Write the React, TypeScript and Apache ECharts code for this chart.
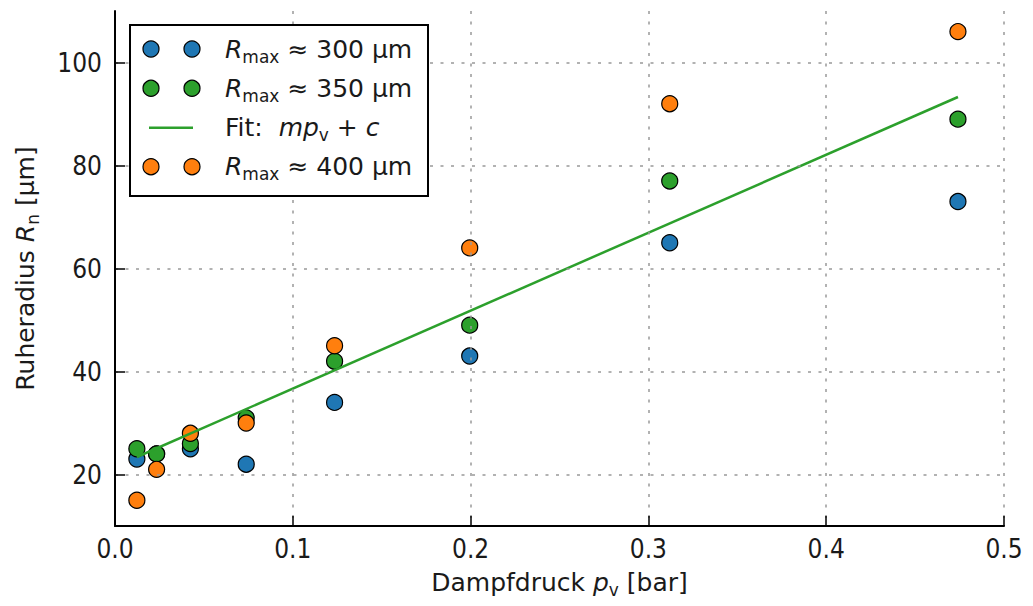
import React, { useEffect, useRef } from "react";
import * as echarts from "echarts";

// Vapour pressure of water p_v [bar]
const pv = [0.0123, 0.0234, 0.0424, 0.0738, 0.1235, 0.1995, 0.312, 0.4741];
// Rest radius R_n [µm]
const r300 = [23, 24, 25, 22, 34, 43, 65, 73];
const r350 = [25, 24, 26, 31, 42, 49, 77, 89];
const r400 = [15, 21, 28, 30, 45, 64, 92, 106];
// Linear fit endpoints (p_v, R_n)
const fitX = [0.0123, 0.4741];
const fitY = [23.4, 93.3];

const yTicks = [20, 40, 60, 80, 100];

const C_BLUE = "#1f77b4";
const C_GREEN = "#2ca02c";
const C_ORANGE = "#ff7f0e";
const FONT = "'DejaVu Sans', sans-serif";
const FONT_TICK = "'DejaVu Sans Condensed', 'DejaVu Sans', sans-serif";
const TXT = "#1a1a1a";

const legendRows = [
  { kind: "dot", color: C_BLUE, text: "{i|R}{s|max} ≈ 300 µm" },
  { kind: "dot", color: C_GREEN, text: "{i|R}{s|max} ≈ 350 µm" },
  { kind: "line", color: C_GREEN, text: "Fit:  {i|mp}{s|v} + {i|c}" },
  { kind: "dot", color: C_ORANGE, text: "{i|R}{s|max} ≈ 400 µm" },
];

export default function App() {
  const ref = useRef<HTMLDivElement>(null);
  useEffect(() => {
    const chart = echarts.init(ref.current!, null, { renderer: "svg" });

    const richAxis = {
      i: { fontStyle: "italic", fontSize: 25, fontFamily: FONT, lineHeight: 32, color: TXT },
      s: { fontSize: 17, fontFamily: FONT, lineHeight: 20, verticalAlign: "bottom", color: TXT },
    };
    const richZr = {
      i: { fontStyle: "italic", fontSize: 25, fontFamily: FONT, lineHeight: 32, fill: TXT },
      s: { fontSize: 17, fontFamily: FONT, lineHeight: 20, verticalAlign: "bottom", fill: TXT },
    };

    const rowY = [49, 88.3, 127.7, 166.7];
    const graphic: any[] = [
      {
        type: "rect",
        z: 100,
        shape: { x: 130, y: 25, width: 298, height: 171 },
        style: { fill: "#fff", stroke: "#000", lineWidth: 2 },
      },
    ];
    legendRows.forEach((r, i) => {
      const y = rowY[i];
      if (r.kind === "dot") {
        [151, 192].forEach((cx) =>
          graphic.push({
            type: "circle",
            z: 101,
            shape: { cx, cy: y, r: 8 },
            style: { fill: r.color, stroke: "#000", lineWidth: 1.2 },
          })
        );
      } else {
        graphic.push({
          type: "line",
          z: 101,
          shape: { x1: 149, y1: y, x2: 193, y2: y },
          style: { stroke: r.color, lineWidth: 2.5 },
        });
      }
      graphic.push({
        type: "text",
        z: 101,
        x: 225,
        y,
        style: {
          text: r.text,
          rich: richZr,
          fontSize: 25,
          fontFamily: FONT,
          lineHeight: 32,
          fill: TXT,
          verticalAlign: "middle",
          align: "left",
        },
      });
    });

    const dots = (vals: number[]) => pv.map((x, i) => [x, vals[i]]);
    const scatterStyle = (color: string) => ({
      type: "scatter",
      symbol: "circle",
      symbolSize: 16,
      itemStyle: { color, borderColor: "#000", borderWidth: 1.2, opacity: 1 },
    });

    chart.setOption({
      animation: false,
      textStyle: { fontFamily: FONT },
      grid: { left: 115, right: 29, top: 11, bottom: 80, containLabel: false },
      xAxis: {
        type: "value",
        min: 0,
        max: 0.5,
        interval: 0.1,
        z: 10,
        axisLine: { show: true, onZero: false, lineStyle: { color: "#000", width: 2 } },
        axisTick: { show: true, inside: true, length: 10, lineStyle: { color: "#000", width: 1.5 } },
        axisLabel: {
          formatter: (v: number) => v.toFixed(1),
          fontSize: 26,
          color: TXT,
          margin: 10,
          fontFamily: FONT_TICK,
        },
        splitLine: { show: true, lineStyle: { color: "#999", type: [3, 7.5], width: 1.5 } },
        name: "Dampfdruck {i|p}{s|v} [bar]",
        nameLocation: "middle",
        nameGap: 40,
        nameTextStyle: { fontSize: 25, fontFamily: FONT, color: TXT, lineHeight: 32, rich: richAxis },
      },
      yAxis: {
        type: "value",
        min: 10,
        max: 110,
        z: 10,
        axisLine: { show: true, onZero: false, lineStyle: { color: "#000", width: 2 } },
        axisTick: {
          show: true,
          inside: true,
          length: 10,
          customValues: yTicks,
          lineStyle: { color: "#000", width: 1.5 },
        },
        axisLabel: { customValues: yTicks, fontSize: 26, color: TXT, margin: 13, fontFamily: FONT_TICK },
        splitLine: { show: true, lineStyle: { color: "#999", type: [3, 7.5], width: 1.5 } },
        name: "Ruheradius {i|R}{s|n} [µm]",
        nameLocation: "middle",
        nameRotate: 90,
        nameGap: 74,
        nameTextStyle: { fontSize: 25, fontFamily: FONT, color: TXT, lineHeight: 32, rich: richAxis },
      },
      series: [
        { name: "R300", data: dots(r300), ...scatterStyle(C_BLUE) },
        { name: "R350", data: dots(r350), ...scatterStyle(C_GREEN) },
        {
          name: "Fit",
          type: "line",
          data: fitX.map((x, i) => [x, fitY[i]]),
          symbol: "none",
          showSymbol: false,
          lineStyle: { color: C_GREEN, width: 2.5 },
          itemStyle: { color: C_GREEN },
        },
        { name: "R400", data: dots(r400), ...scatterStyle(C_ORANGE) },
      ],
      graphic,
    });
    return () => chart.dispose();
  }, []);
  return (
    <div
      ref={ref}
      style={{ position: "absolute", left: 0, top: 0, width: 1033, height: 606, background: "#fff" }}
    />
  );
}
